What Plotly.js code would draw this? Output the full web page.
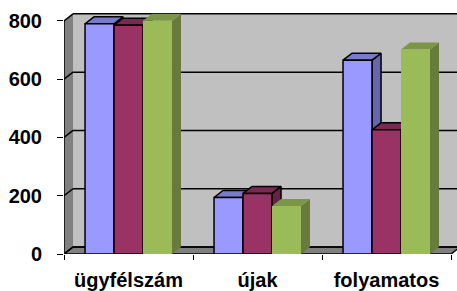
<!DOCTYPE html>
<html><head><meta charset="utf-8">
<script src="https://cdn.plot.ly/plotly-3.0.1.min.js"></script>
<style>html,body{margin:0;padding:0;background:#fff}#chart{width:457px;height:291px}</style>
</head><body><div id="chart"></div>
<script>
// ---- data ----
const categories = ['ügyfélszám', 'újak', 'folyamatos'];
const series1 = [790, 194, 665];
const series2 = [785, 208, 426];
const series3 = [800, 165, 702];
const yTicks = [0, 200, 400, 600, 800];

// ---- style ----
const seriesList = [series1, series2, series3];
const frontColors = ['#9999FF', '#993366', '#9BBB59'];
const topColors = ['#7A7ACC', '#7A2952', '#7C9647'];
const sideColors = ['#6666AA', '#662244', '#677C3B'];
const edgeWidths = [1.5, 1.5, 0];
const BARGAP = 0.326;
const DX = 0.07, DY = 24;           // depth offset in axis units
const XR = [-0.5, -0.5 + 393 / 129];
const YR = [0, 827];
const xs = categories.map((c, i) => i);
const bw = (1 - BARGAP) / seriesList.length;
const font = {family: 'Liberation Sans', size: 20, color: '#000', weight: 'bold'};

const traces = [];
// side and top faces (drawn left to right, beneath the front faces)
xs.forEach(i => {
  seriesList.forEach((s, k) => {
    const c = i + (k - (seriesList.length - 1) / 2) * bw;
    const L = c - bw / 2, R = c + bw / 2, v = s[i];
    const ln = edgeWidths[k] > 0 ? {color: '#000', width: edgeWidths[k]} : {color: sideColors[k], width: 0};
    traces.push({type: 'scatter', mode: 'lines', x: [R, R + DX, R + DX, R, R], y: [0, DY, v + DY, v, 0],
      fill: 'toself', fillcolor: sideColors[k], line: ln, hoverinfo: 'skip', showlegend: false});
    const ln2 = edgeWidths[k] > 0 ? {color: '#000', width: edgeWidths[k]} : {color: topColors[k], width: 0};
    traces.push({type: 'scatter', mode: 'lines', x: [L, R, R + DX, L + DX, L], y: [v, v, v + DY, v + DY, v],
      fill: 'toself', fillcolor: topColors[k], line: ln2, hoverinfo: 'skip', showlegend: false});
  });
});
// front faces: real bars on an overlaid axis pair so they sit above the faces
seriesList.forEach((s, k) => {
  traces.push({type: 'bar', x: xs, y: s, xaxis: 'x2', yaxis: 'y2',
    marker: {color: frontColors[k], line: {color: '#000', width: edgeWidths[k]}}, hoverinfo: 'skip', showlegend: false});
});

// walls, floor and gridlines
const x0 = XR[0], xEnd = XR[1], xFront = categories.length - 0.5;
const yTop = yTicks[yTicks.length - 1];
const shapes = [];
shapes.push({type: 'rect', layer: 'below', xref: 'x', yref: 'y', x0: x0 + DX, x1: xEnd, y0: DY, y1: yTop + DY,
  fillcolor: '#C0C0C0', line: {width: 0}});
shapes.push({type: 'path', layer: 'below', xref: 'x', yref: 'y',
  path: `M${x0},0 L${x0 + DX},${DY} L${x0 + DX},${yTop + DY} L${x0},${yTop} Z`, fillcolor: '#808080', line: {width: 0}});
shapes.push({type: 'path', layer: 'below', xref: 'x', yref: 'y',
  path: `M${x0},0 L${xFront},0 L${xFront + DX},${DY} L${x0 + DX},${DY} Z`, fillcolor: '#808080', line: {color: '#000', width: 1.5}});
yTicks.forEach(t => {
  shapes.push({type: 'line', layer: 'below', xref: 'x', yref: 'y', x0: x0 + DX, x1: xEnd, y0: t + DY, y1: t + DY, line: {color: '#000', width: 1.5}});
  shapes.push({type: 'line', layer: 'below', xref: 'x', yref: 'y', x0: x0, x1: x0 + DX, y0: t, y1: t + DY, line: {color: '#000', width: 1.5}});
});
shapes.push({type: 'line', layer: 'below', xref: 'x', yref: 'y', x0: x0, x1: x0, y0: 0, y1: yTop, line: {color: '#000', width: 1.5}});

const layout = {
  width: 457, height: 291, margin: {l: 64, r: 0, t: 13, b: 37},
  paper_bgcolor: '#fff', plot_bgcolor: 'rgba(0,0,0,0)', showlegend: false,
  barmode: 'group', bargap: BARGAP, bargroupgap: 0,
  xaxis: {range: XR, tickvals: xs, ticktext: categories, ticks: 'outside', ticklen: 8, tickcolor: 'rgba(0,0,0,0)',
    showgrid: false, zeroline: false, showline: false, tickfont: font, fixedrange: true},
  xaxis2: {overlaying: 'x', range: XR, tickvals: xs.map(i => i - 0.5).concat([xFront]), ticks: 'outside', ticklen: 5,
    tickcolor: '#000', tickwidth: 1, showticklabels: false, showgrid: false, zeroline: false, showline: false, fixedrange: true},
  yaxis: {range: YR, tickvals: yTicks, ticks: 'outside', ticklen: 6, tickcolor: '#000', tickwidth: 1,
    showgrid: false, zeroline: false, showline: false, tickfont: font, ticklabelstandoff: 11, fixedrange: true},
  yaxis2: {overlaying: 'y', range: YR, visible: false, fixedrange: true},
  shapes: shapes
};
Plotly.newPlot('chart', traces, layout, {displayModeBar: false, staticPlot: true});
</script>
</body></html>
